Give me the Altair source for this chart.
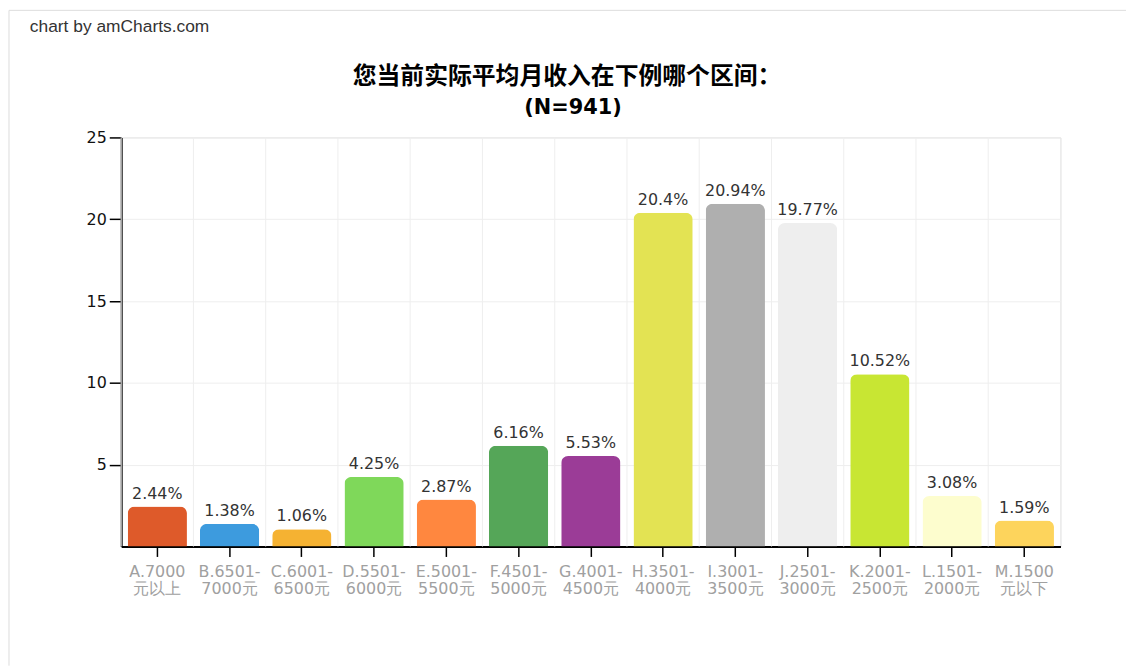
import altair as alt
import pandas as pd

categories = [
    "A.7000\n元以上", "B.6501-\n7000元", "C.6001-\n6500元", "D.5501-\n6000元",
    "E.5001-\n5500元", "F.4501-\n5000元", "G.4001-\n4500元", "H.3501-\n4000元",
    "I.3001-\n3500元", "J.2501-\n3000元", "K.2001-\n2500元", "L.1501-\n2000元",
    "M.1500\n元以下",
]
values = [2.44, 1.38, 1.06, 4.25, 2.87, 6.16, 5.53, 20.4, 20.94, 19.77, 10.52, 3.08, 1.59]
colors = ["#DE5A2A", "#3D9BDE", "#F5B232", "#7FD85A", "#FF873F", "#55A658", "#9B3C97",
          "#E3E353", "#AFAFAF", "#EEEEEE", "#C8E633", "#FDFDCE", "#FDD45C"]
y_ticks = [5, 10, 15, 20, 25]
title_lines = ["您当前实际平均月收入在下例哪个区间：", "(N=941)"]
credit_text = "chart by amCharts.com"

df = pd.DataFrame({"cat": categories, "val": values, "color": colors})
df["label"] = [f"{v:g}%" for v in values]

W, H = 946, 412
FONT = "DejaVu Sans"

xscale = alt.Scale(domain=categories, paddingInner=0, paddingOuter=0)
yscale = alt.Scale(domain=[0, 25], nice=False)

xaxis = alt.Axis(labelExpr="split(datum.value, '\\n')", labelAngle=0,
                 labelColor="#A0A0A0", labelFont=FONT, labelFontSize=16,
                 labelLineHeight=17, labelPadding=7, tickSize=10,
                 tickColor="#000000", domainColor="#000000", domainWidth=2,
                 tickWidth=1.5, grid=False, title=None)

base = alt.Chart(df)

grid_v = base.mark_rule(color="#EEEEEE", strokeWidth=1).encode(
    x=alt.X("cat:N", scale=xscale, bandPosition=0, axis=xaxis, sort=None)
)

bars = base.mark_bar(cornerRadiusTopLeft=7, cornerRadiusTopRight=7,
                     width=alt.RelativeBandSize(0.82)).encode(
    x=alt.X("cat:N", scale=xscale, sort=None, axis=xaxis),
    y=alt.Y("val:Q", scale=yscale, title=None,
            axis=alt.Axis(values=y_ticks, labelFont=FONT, labelFontSize=16,
                          labelColor="#111111", tickSize=12, tickColor="#000000",
                          domainColor="#000000", domainWidth=2, tickWidth=1.5,
                          labelPadding=3, gridColor="#EEEEEE", grid=True)),
    color=alt.Color("color:N", scale=None),
)

labels = base.mark_text(font=FONT, fontSize=16, color="#333333", baseline="middle",
                        dy=-13).encode(
    x=alt.X("cat:N", scale=xscale, sort=None, axis=xaxis),
    y=alt.Y("val:Q", scale=yscale),
    text="label:N",
)

credit = alt.Chart(pd.DataFrame({"t": [credit_text]})).mark_text(
    font="Liberation Sans", fontSize=17.5, color="#333333", align="left",
    baseline="middle", clip=False
).encode(x=alt.value(-92), y=alt.value(-111), text="t:N")

title1 = alt.Chart(pd.DataFrame({"t": [title_lines[0]]})).mark_text(
    font="Noto Sans CJK SC", fontSize=24, fontWeight="bold", color="#000000",
    align="center", baseline="middle", clip=False
).encode(x=alt.value(449), y=alt.value(-61), text="t:N")

title2 = alt.Chart(pd.DataFrame({"t": [title_lines[1]]})).mark_text(
    font="DejaVu Sans", fontSize=21, fontWeight="bold", color="#000000",
    align="center", baseline="middle", clip=False
).encode(x=alt.value(455), y=alt.value(-30), text="t:N")

border_top = alt.Chart(pd.DataFrame({"a": [0]})).mark_rule(
    color="#DDDDDD", strokeWidth=1, clip=False
).encode(x=alt.value(-113), x2=alt.value(1012), y=alt.value(-128))
border_left = alt.Chart(pd.DataFrame({"a": [0]})).mark_rule(
    color="#DDDDDD", strokeWidth=1, clip=False
).encode(x=alt.value(-113), y=alt.value(-128), y2=alt.value(532))

chart = alt.layer(grid_v, bars, labels, credit, title1, title2,
                  border_top, border_left).properties(
    width=W, height=H,
    autosize=alt.AutoSizeParams(type="none"),
    padding={"left": 114, "top": 128, "right": 66, "bottom": 120},
).configure_view(stroke="#EEEEEE").configure(background="white")

chart.save("out.html", embed_options={"renderer": "svg", "actions": False})
